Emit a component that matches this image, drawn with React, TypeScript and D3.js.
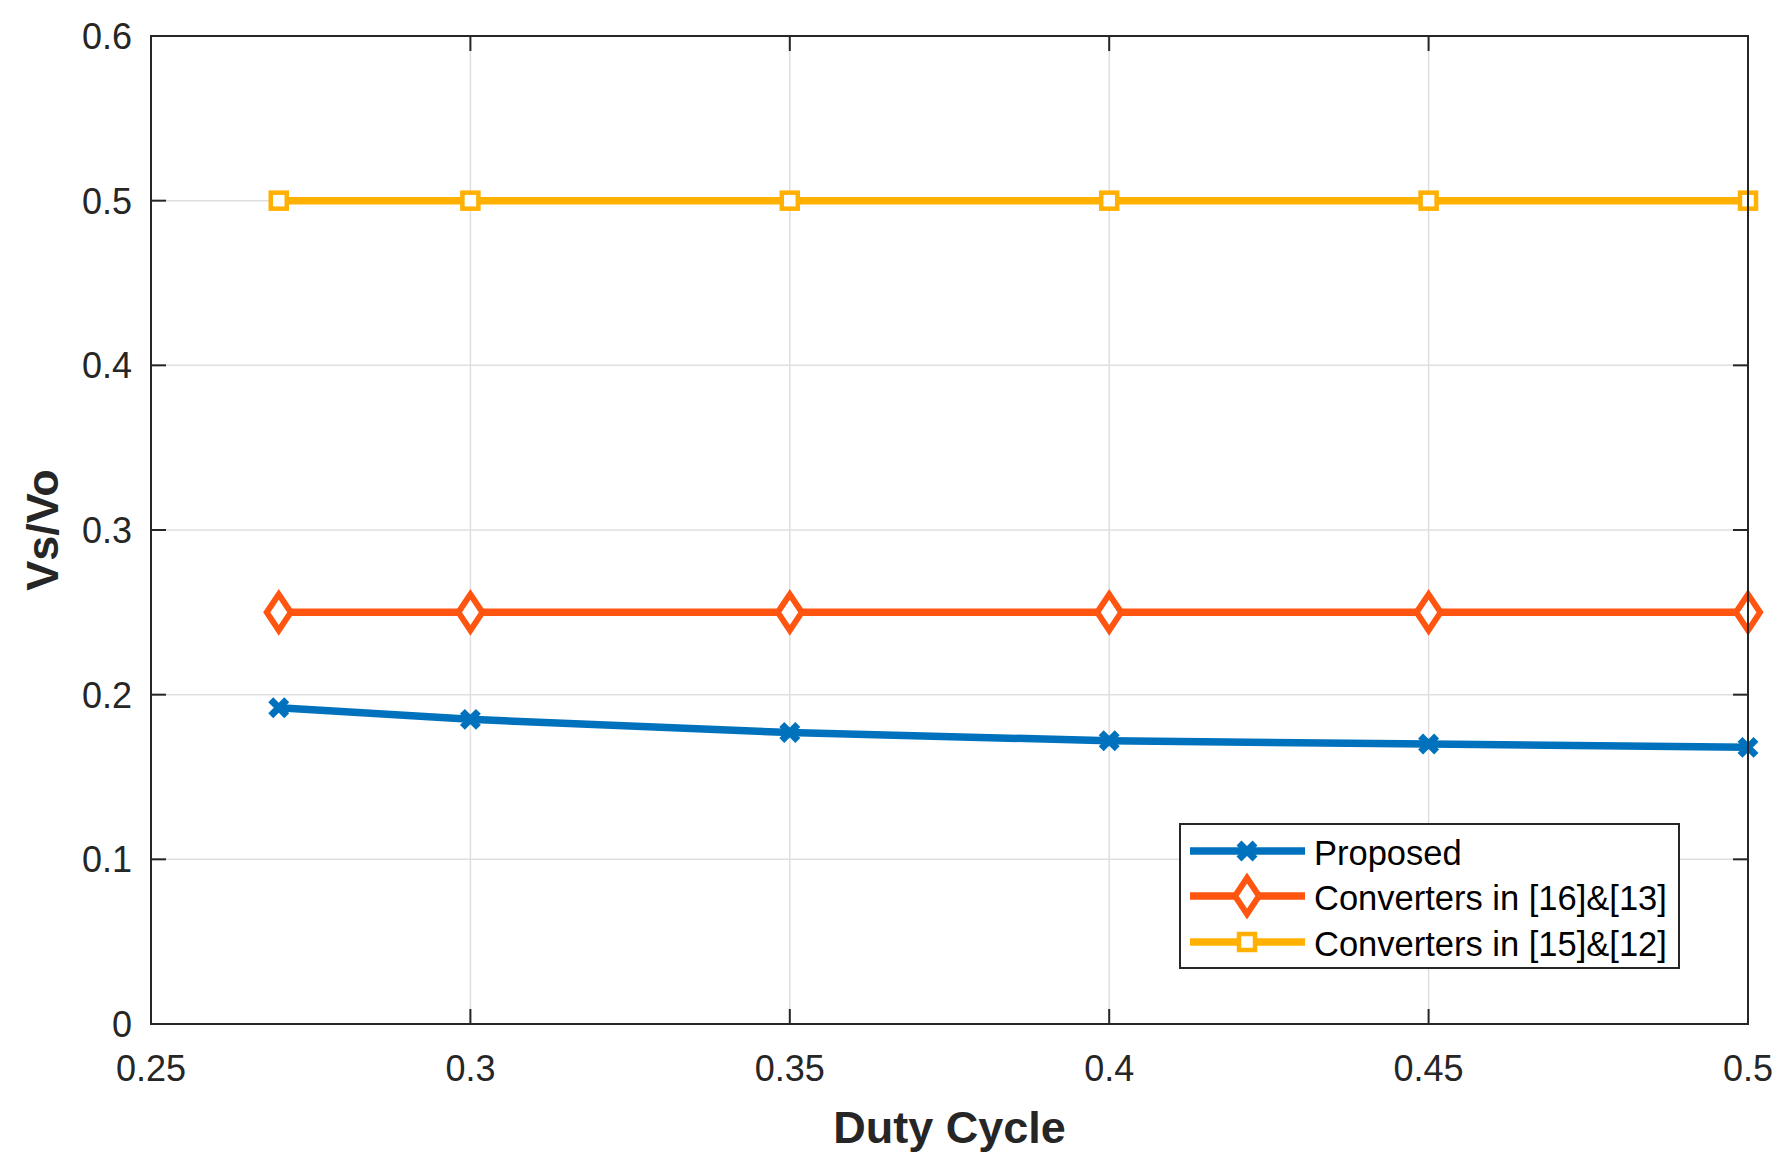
import React, { useEffect, useRef } from "react";
import * as d3 from "d3";

const dutyCycle = [0.27, 0.3, 0.35, 0.4, 0.45, 0.5];
const proposed = [0.192, 0.185, 0.177, 0.172, 0.17, 0.168];
const conv16_13 = [0.25, 0.25, 0.25, 0.25, 0.25, 0.25];
const conv15_12 = [0.5, 0.5, 0.5, 0.5, 0.5, 0.5];

const xTicks = [0.25, 0.3, 0.35, 0.4, 0.45, 0.5];
const xTickLabels = ["0.25", "0.3", "0.35", "0.4", "0.45", "0.5"];
const yTicks = [0, 0.1, 0.2, 0.3, 0.4, 0.5, 0.6];
const yTickLabels = ["0", "0.1", "0.2", "0.3", "0.4", "0.5", "0.6"];

const seriesNames = ["Proposed", "Converters in [16]&[13]", "Converters in [15]&[12]"];
const seriesColors = ["#0072BD", "#FF5510", "#FFB000"];
const seriesMarkers = ["x", "diamond", "square"];

const W = 1792;
const H = 1170;
const FONT = "'Liberation Sans', Arial, Helvetica, sans-serif";
const INK = "#262626";

type Pt = { x: number; y: number };

function drawMarker(
  sel: d3.Selection<SVGGElement, unknown, null, undefined>,
  kind: string,
  color: string,
  cx: number,
  cy: number,
) {
  if (kind === "x") {
    sel
      .append("path")
      .attr("d", "M-8,-8L8,8M-8,8L8,-8")
      .attr("transform", `translate(${cx},${cy})`)
      .attr("stroke", color)
      .attr("stroke-width", 7)
      .attr("fill", "none");
  } else if (kind === "diamond") {
    sel
      .append("path")
      .attr("d", "M0,-18L12,0L0,18L-12,0Z")
      .attr("transform", `translate(${cx},${cy})`)
      .attr("stroke", color)
      .attr("stroke-width", 6)
      .attr("stroke-linejoin", "miter")
      .attr("fill", "#fff");
  } else {
    sel
      .append("rect")
      .attr("x", cx - 8)
      .attr("y", cy - 8)
      .attr("width", 16)
      .attr("height", 16)
      .attr("stroke", color)
      .attr("stroke-width", 4.5)
      .attr("fill", "#fff");
  }
}

export default function App() {
  const svgRef = useRef<SVGSVGElement>(null);

  useEffect(() => {
    if (!svgRef.current) return;
    const svg = d3.select(svgRef.current);
    svg.selectAll("*").remove();

    const margin = { top: 36, right: W - 1748, bottom: H - 1024, left: 151 };
    const innerW = W - margin.left - margin.right;
    const innerH = H - margin.top - margin.bottom;

    const x = d3.scaleLinear().domain([0.25, 0.5]).range([0, innerW]);
    const y = d3.scaleLinear().domain([0, 0.6]).range([innerH, 0]);

    const g = svg
      .append("g")
      .attr("transform", `translate(${margin.left},${margin.top})`);

    g.append("rect")
      .attr("width", innerW)
      .attr("height", innerH)
      .attr("fill", "#fff");

    // grid
    g.append("g")
      .selectAll("line")
      .data(xTicks.slice(1, -1))
      .enter()
      .append("line")
      .attr("x1", (d) => x(d))
      .attr("x2", (d) => x(d))
      .attr("y1", 0)
      .attr("y2", innerH)
      .attr("stroke", "#dfdfdf")
      .attr("stroke-width", 1.5);

    g.append("g")
      .selectAll("line")
      .data(yTicks.slice(1, -1))
      .enter()
      .append("line")
      .attr("x1", 0)
      .attr("x2", innerW)
      .attr("y1", (d) => y(d))
      .attr("y2", (d) => y(d))
      .attr("stroke", "#dfdfdf")
      .attr("stroke-width", 1.5);

    // inward ticks on all sides
    const tickLen = 15;
    const ticks = g.append("g").attr("stroke", INK).attr("stroke-width", 2);
    xTicks.forEach((t) => {
      ticks.append("line").attr("x1", x(t)).attr("x2", x(t)).attr("y1", innerH).attr("y2", innerH - tickLen);
      ticks.append("line").attr("x1", x(t)).attr("x2", x(t)).attr("y1", 0).attr("y2", tickLen);
    });
    yTicks.forEach((t) => {
      ticks.append("line").attr("x1", 0).attr("x2", tickLen).attr("y1", y(t)).attr("y2", y(t));
      ticks.append("line").attr("x1", innerW).attr("x2", innerW - tickLen).attr("y1", y(t)).attr("y2", y(t));
    });

    // tick labels
    g.append("g")
      .selectAll("text")
      .data(xTicks)
      .enter()
      .append("text")
      .attr("x", (d) => x(d))
      .attr("y", innerH + 57)
      .attr("text-anchor", "middle")
      .style("font-family", FONT)
      .style("font-size", "36px")
      .style("fill", INK)
      .text((_d, i) => xTickLabels[i]);

    g.append("g")
      .selectAll("text")
      .data(yTicks)
      .enter()
      .append("text")
      .attr("x", -19)
      .attr("y", (d) => y(d) + 13)
      .attr("text-anchor", "end")
      .style("font-family", FONT)
      .style("font-size", "36px")
      .style("fill", INK)
      .text((_d, i) => yTickLabels[i]);

    // series
    const allSeries = [proposed, conv16_13, conv15_12];
    const line = d3
      .line<Pt>()
      .x((d) => x(d.x))
      .y((d) => y(d.y));

    allSeries.forEach((vals, si) => {
      const pts: Pt[] = dutyCycle.map((d, i) => ({ x: d, y: vals[i] }));
      g.append("path")
        .datum(pts)
        .attr("fill", "none")
        .attr("stroke", seriesColors[si])
        .attr("stroke-width", 7.5)
        .attr("stroke-linejoin", "round")
        .attr("d", line);
      const mg = g.append("g");
      pts.forEach((p) => drawMarker(mg, seriesMarkers[si], seriesColors[si], x(p.x), y(p.y)));
    });

    // axes box
    g.append("rect")
      .attr("width", innerW)
      .attr("height", innerH)
      .attr("fill", "none")
      .attr("stroke", INK)
      .attr("stroke-width", 2);

    // legend
    const lg = svg.append("g");
    lg.append("rect")
      .attr("x", 1180)
      .attr("y", 824)
      .attr("width", 499)
      .attr("height", 144)
      .attr("fill", "#fff")
      .attr("stroke", INK)
      .attr("stroke-width", 2);
    const rowY = [851, 896, 942];
    seriesNames.forEach((name, i) => {
      lg.append("line")
        .attr("x1", 1190)
        .attr("x2", 1305)
        .attr("y1", rowY[i])
        .attr("y2", rowY[i])
        .attr("stroke", seriesColors[i])
        .attr("stroke-width", 7.5);
      drawMarker(lg, seriesMarkers[i], seriesColors[i], 1247, rowY[i]);
      lg.append("text")
        .attr("x", 1314)
        .attr("y", rowY[i] + 14)
        .style("font-family", FONT)
        .style("font-size", "34.5px")
        .style("fill", "#000")
        .text(name);
    });

    // axis titles
    svg
      .append("text")
      .attr("x", margin.left + innerW / 2)
      .attr("y", 1143)
      .attr("text-anchor", "middle")
      .style("font-family", FONT)
      .style("font-size", "45px")
      .style("font-weight", "bold")
      .style("fill", INK)
      .text("Duty Cycle");

    svg
      .append("text")
      .attr("transform", `translate(58,${margin.top + innerH / 2}) rotate(-90)`)
      .attr("text-anchor", "middle")
      .style("font-family", FONT)
      .style("font-size", "45px")
      .style("font-weight", "bold")
      .style("fill", INK)
      .text("Vs/Vo");
  }, []);

  return (
    <svg
      ref={svgRef}
      width={W}
      height={H}
      style={{ position: "absolute", left: 0, top: 0, background: "#fff" }}
    />
  );
}
